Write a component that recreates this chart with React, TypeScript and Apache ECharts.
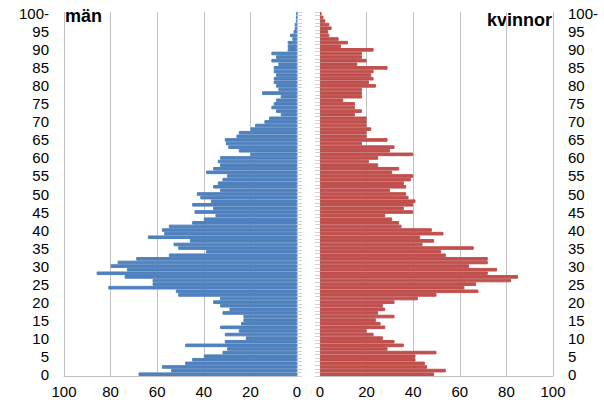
import React, { useEffect, useRef } from "react";
import * as echarts from "echarts";

const ages: string[] = Array.from({ length: 101 }, (_, i) => (i === 100 ? "100-" : String(i)));

const men: number[] = [
  68, 54, 58, 48, 45, 40, 32, 30, 48, 31,
  22, 31, 25, 33, 24, 23, 23, 32, 29, 33,
  36, 33, 51, 52, 81, 62, 62, 74, 86, 73,
  80, 77, 69, 55, 39, 51, 53, 46, 64, 57,
  58, 55, 45, 40, 35, 44, 36, 45, 37, 41.5,
  43, 33, 36, 34, 32, 30, 39, 36, 33, 34,
  33, 20, 25, 29.5, 30.5, 31, 26, 25, 20, 18,
  14, 12, 7, 9, 11, 10, 9, 7, 15, 8,
  9, 10, 10, 9, 10, 10, 8, 11, 9, 11,
  4, 4, 4, 2, 3, 1.5, 1, 1, 0.5, 0.3,
  0.2,
];

const women: number[] = [
  49, 54, 46, 45, 41, 41, 50, 29, 36, 32,
  27, 23, 20, 28, 26, 24, 32, 25, 28, 27,
  32, 42, 50, 68, 62, 67, 82, 85, 72, 76,
  64, 72, 72, 54, 52, 66, 44, 49, 43, 53,
  48, 35, 34, 31, 28, 40, 36, 40, 41, 38,
  37, 30, 37, 36, 39, 40, 31, 34, 25, 21,
  25, 40, 30, 32, 18, 29, 20, 20, 22, 20,
  20, 20, 15, 18, 15, 15, 10, 18, 18, 18,
  24, 21, 23, 22, 23, 29, 16, 20, 18, 18,
  23, 9, 12, 8, 4, 3.5, 5, 4, 2.3, 1.5,
  0.7,
];

const FONT = "'Liberation Sans', Arial, sans-serif";
const GRID = "#c0c0c0";
const BLUE = "#4F81BD";
const RED = "#C0504D";

export default function App() {
  const ref = useRef<HTMLDivElement>(null);
  useEffect(() => {
    if (!ref.current) return;
    const chart = echarts.init(ref.current, undefined, { renderer: "svg" });
    const valueAxis = (gridIndex: number, inverse: boolean) => ({
      gridIndex,
      type: "value",
      inverse,
      min: 0,
      max: 100,
      interval: 20,
      axisLine: { show: true, lineStyle: { color: GRID } },
      axisTick: { show: false },
      axisLabel: { fontSize: 15, color: "#000", margin: 8, fontFamily: FONT },
      splitLine: { show: true, lineStyle: { color: GRID, width: 1 } },
    });
    const labelAxis = (gridIndex: number, position: string) => ({
      gridIndex,
      type: "category",
      data: ages,
      position,
      axisLine: { show: false, onZero: false },
      axisTick: { show: false },
      axisLabel: { interval: 4, margin: 15, fontSize: 15, color: "#000", fontFamily: FONT },
      splitLine: { show: false },
    });
    const tickAxis = (gridIndex: number, position: string) => ({
      gridIndex,
      type: "category",
      data: ages,
      position,
      axisLine: { show: true, onZero: false, lineStyle: { color: GRID } },
      axisTick: { show: true, interval: 0, length: 5, lineStyle: { color: "#d0d0d0" } },
      axisLabel: { show: false },
      splitLine: { show: false },
    });
    chart.setOption({
      animation: false,
      textStyle: { fontFamily: FONT },
      grid: [
        { left: 64, top: 12, width: 233, height: 364 },
        { left: 320, top: 12, width: 233, height: 364 },
      ],
      xAxis: [valueAxis(0, true), valueAxis(1, false)],
      yAxis: [
        labelAxis(0, "left"),
        tickAxis(0, "right"),
        labelAxis(1, "right"),
        tickAxis(1, "left"),
      ],
      series: [
        {
          name: "män",
          type: "bar",
          xAxisIndex: 0,
          yAxisIndex: 0,
          data: men,
          barCategoryGap: "0%",
          itemStyle: { color: BLUE, borderColor: BLUE, borderWidth: 1 },
        },
        {
          name: "kvinnor",
          type: "bar",
          xAxisIndex: 1,
          yAxisIndex: 2,
          data: women,
          barCategoryGap: "0%",
          itemStyle: { color: RED, borderColor: RED, borderWidth: 1 },
        },
      ],
      graphic: [
        {
          type: "text",
          x: 65,
          y: 7,
          style: { text: "män", fontSize: 18, fontWeight: "bold", fontFamily: FONT, fill: "#000", textVerticalAlign: "top" },
        },
        {
          type: "text",
          x: 552,
          y: 11,
          style: { text: "kvinnor", fontSize: 18, fontWeight: "bold", fontFamily: FONT, fill: "#000", textAlign: "right", textVerticalAlign: "top" },
        },
      ],
    });
    return () => chart.dispose();
  }, []);
  return (
    <div
      ref={ref}
      style={{ position: "absolute", left: 0, top: 0, width: 604, height: 403, background: "#fff" }}
    />
  );
}
